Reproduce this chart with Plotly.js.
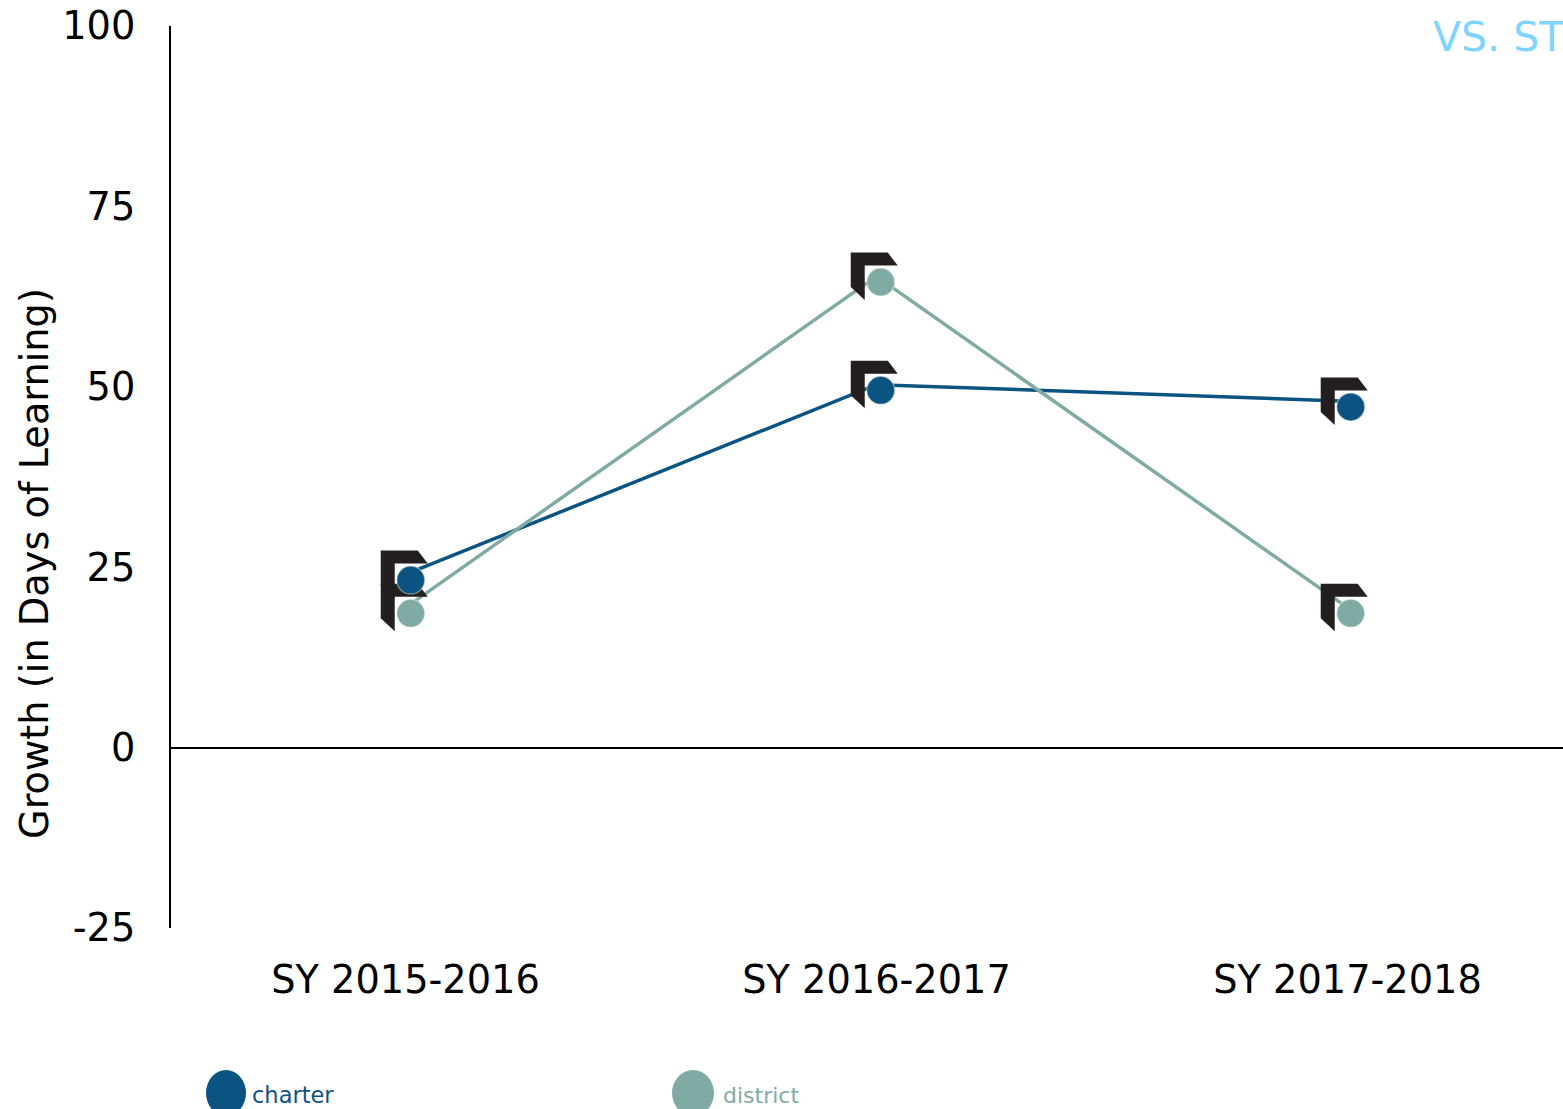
<!DOCTYPE html>
<html>
<head>
<meta charset="utf-8">
<script src="https://cdn.plot.ly/plotly-3.0.1.min.js"></script>
<style>html,body{margin:0;padding:0;background:#fff;overflow:hidden;width:1563px;height:1109px}#chart{width:1583px;height:1109px}</style>
</head>
<body>
<div id="chart"></div>
<script>
const categories = ["SY 2015-2016", "SY 2016-2017", "SY 2017-2018"];
const charter = [24.0, 50.3, 48.0];
const district = [19.4, 65.3, 19.4];
const yTicks = [-25, 0, 25, 50, 75, 100];
const yTickLabels = ["-25", "0", "25", "50", "75", "100"];
const BLUE = "#0b5380", GREEN = "#80aba5", FONT = "DejaVu Sans, Verdana, sans-serif";
const W = 1583, H = 1109, L = 171, R = 0, T = 26, B = 181;
const pw = W - L - R, ph = H - T - B;
const dy = 5.7 / (ph / 125);
const labelRange = [-0.4979, 2.5];
const markRange = [-0.5101, 2.4942];
const px = v => (v - L) / pw, py = v => (H - B - v) / ph;

const corner = "M-30,29.5 L7,29.5 L17,16.5 L-16,16.5 L-16,-18 L-30,-5 Z";
const shapes = [];
[charter, district].forEach(s => s.forEach((v, i) => shapes.push({
  type: "path", layer: "between", xref: "x2", yref: "y2", xsizemode: "pixel", ysizemode: "pixel",
  xanchor: categories[i], yanchor: v, path: corner, fillcolor: "#231f20", line: {width: 0}
})));
[[226, 20, BLUE], [693, 21, GREEN]].forEach(([c, r, col]) => shapes.push({
  type: "circle", layer: "above", xref: "paper", yref: "paper", xsizemode: "pixel", ysizemode: "pixel",
  xanchor: px(c), yanchor: py(1093), x0: -r, x1: r, y0: -23, y1: 23, fillcolor: col, line: {width: 0}
}));

const lineTrace = (name, y, color) => ({x: categories, y, name, type: "scatter", mode: "lines", xaxis: "x", yaxis: "y",
  line: {color, width: 3.5}, showlegend: false, hoverinfo: "skip"});
const dotTrace = (name, y, color) => ({x: categories, y, name, type: "scatter", mode: "markers", xaxis: "x2", yaxis: "y2",
  marker: {color, size: 28, line: {color: "rgba(255,255,255,0.4)", width: 1.5}}, showlegend: false});

const traces = [lineTrace("charter", charter, BLUE), lineTrace("district", district, GREEN),
  dotTrace("charter", charter, BLUE), dotTrace("district", district, GREEN)];

const layout = {
  width: W, height: H, margin: {l: L, r: R, t: T, b: B}, paper_bgcolor: "rgba(0,0,0,0)", plot_bgcolor: "rgba(0,0,0,0)",
  font: {family: FONT, color: "#000"}, showlegend: false, shapes,
  xaxis: {type: "category", categoryorder: "array", categoryarray: categories, range: labelRange, showgrid: false, zeroline: false,
    showline: false, ticks: "", tickfont: {size: 38.3, family: FONT, color: "#000"}, ticklabelstandoff: 26, automargin: false, fixedrange: true},
  yaxis: {range: [-25, 100], tickmode: "array", tickvals: yTicks, ticktext: yTickLabels, showgrid: false, zeroline: true, zerolinecolor: "#000", zerolinewidth: 2,
    showline: true, linecolor: "#000", linewidth: 2, ticks: "", tickfont: {size: 38.3, family: FONT, color: "#000"}, ticklabelstandoff: 26, automargin: false, fixedrange: true},
  xaxis2: {type: "category", categoryorder: "array", categoryarray: categories, anchor: "y2", range: markRange, visible: false, fixedrange: true},
  yaxis2: {anchor: "x2", range: [-25 + dy, 100 + dy], visible: false, fixedrange: true},
  annotations: [
    {text: "Growth (in Days of Learning)", xref: "paper", yref: "paper", x: px(34), y: py(564), xanchor: "center", yanchor: "middle", textangle: -90, showarrow: false, font: {size: 38.3, family: FONT, color: "#000"}},
    {text: "VS. ST", xref: "paper", yref: "paper", x: px(1431), y: py(37), xanchor: "left", yanchor: "middle", showarrow: false, font: {size: 41, family: FONT, color: "#7fd4fd"}},
    {text: "charter", xref: "paper", yref: "paper", x: px(250), y: py(1095), xanchor: "left", yanchor: "middle", showarrow: false, font: {size: 22.5, family: FONT, color: BLUE}},
    {text: "district", xref: "paper", yref: "paper", x: px(721), y: py(1095), xanchor: "left", yanchor: "middle", showarrow: false, font: {size: 22, family: FONT, color: GREEN}}
  ]
};
Plotly.newPlot("chart", traces, layout, {displayModeBar: false, staticPlot: true});
</script>
</body>
</html>
